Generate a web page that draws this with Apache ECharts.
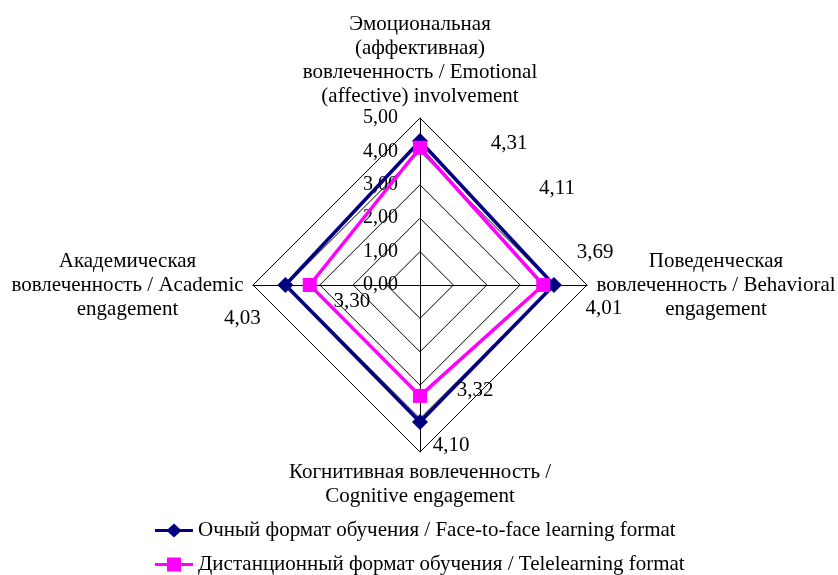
<!DOCTYPE html>
<html>
<head>
<meta charset="utf-8">
<script src="https://cdn.jsdelivr.net/npm/echarts@6/dist/echarts.min.js"></script>
<style>
html, body { margin: 0; padding: 0; background: #fff; }
#main { width: 838px; height: 575px; }
</style>
</head>
<body>
<div id="main"></div>
<script>
// indicator order goes counterclockwise from the top: Emotional, Academic, Cognitive, Behavioral
var dimNames = [
    ['Эмоциональная', '(аффективная)', 'вовлеченность / Emotional', '(affective) involvement'],
    ['Академическая', 'вовлеченность / Academic', 'engagement'],
    ['Когнитивная вовлеченность /', 'Cognitive engagement'],
    ['Поведенческая', 'вовлеченность / Behavioral', 'engagement']
];
var axisMax = 5;
var seriesNames = ['Очный формат обучения / Face-to-face learning format',
    'Дистанционный формат обучения / Telelearning format'];
var faceToFace = [4.31, 4.03, 4.10, 4.01];
var teleLearning = [4.11, 3.30, 3.32, 3.69];

var font = 'Liberation Serif';
var navy = '#000080';
var magenta = '#ff00ff';

// where each value label sits relative to its point (dx, dy), like in the original
var navyShift = [[89, 2], [-43, 33], [31, 24], [50, 23]];
var magentaShift = [[137, 41], [42, 16], [55, -5], [52, -33]];

function fmt(v) {
    return v.toFixed(2).replace('.', ',');
}

function shiftRich(shifts) {
    var rich = {};
    shifts.forEach(function (s, i) {
        var dx = s[0], dy = s[1];
        rich['s' + i] = {
            fontSize: 21,
            fontFamily: font,
            color: '#000',
            padding: [dy > 0 ? 2 * dy : 0, dx < 0 ? -2 * dx : 0, dy < 0 ? -2 * dy : 0, dx > 0 ? 2 * dx : 0]
        };
    });
    return rich;
}

function pointLabel(values, shifts) {
    return {
        show: true,
        position: 'inside',
        formatter: function (p) {
            var i = p.dimensionIndex != null ? p.dimensionIndex : values.indexOf(p.value);
            return '{s' + i + '|' + fmt(p.value) + '}';
        },
        rich: shiftRich(shifts)
    };
}

var nameSide = ['t', 'l', 'b', 'r'];
function nameStyle(w) {
    var s = { fontFamily: font, fontSize: 21, lineHeight: 24, color: '#000', align: 'center' };
    if (w) s.width = w;
    return s;
}

var chart = echarts.init(document.getElementById('main'));

var option = {
    backgroundColor: '#fff',
    animation: false,
    textStyle: { fontFamily: font },
    legend: {
        orient: 'vertical',
        left: 155,
        top: 520,
        height: 80,
        padding: 0,
        itemWidth: 38,
        itemHeight: 14,
        itemGap: 13,
        selectedMode: false,
        textStyle: { fontFamily: font, fontSize: 21, color: '#000', lineHeight: 21 },
        data: [
            { name: seriesNames[0], icon: 'path://M0,5.5 L13,5.5 L19,0 L25,5.5 L38,5.5 L38,8.5 L25,8.5 L19,14 L13,8.5 L0,8.5 Z' },
            { name: seriesNames[1], icon: 'path://M0,5.5 L12,5.5 L12,0 L26,0 L26,5.5 L38,5.5 L38,8.5 L26,8.5 L26,14 L12,14 L12,8.5 L0,8.5 Z' }
        ]
    },
    radar: {
        center: [420, 285],
        radius: 167,
        startAngle: 90,
        shape: 'polygon',
        splitNumber: 5,
        nameGap: 8,
        axisName: {
            color: '#000',
            fontFamily: font,
            fontSize: 21,
            lineHeight: 24,
            formatter: function (name, ind) {
                var idx = ind.idx;
                return dimNames[idx].map(function (line) {
                    return '{' + nameSide[idx] + '|' + line + '}';
                }).join('\n');
            },
            rich: {
                t: nameStyle(0),
                b: nameStyle(0),
                l: nameStyle(235),
                r: nameStyle(242)
            }
        },
        axisLine: { lineStyle: { color: '#000', width: 1 } },
        splitLine: { lineStyle: { color: '#000', width: 1 } },
        splitArea: { show: false },
        axisTick: { show: false },
        axisLabel: {
            show: true,
            color: '#000',
            fontFamily: font,
            fontSize: 20,
            margin: 22,
            formatter: function (v) { return fmt(v); }
        },
        indicator: dimNames.map(function (lines, i) {
            var ind = { name: lines.join(' '), idx: i, min: 0, max: axisMax };
            if (i > 0) ind.axisLabel = { show: false };
            return ind;
        })
    },
    series: [{
        type: 'radar',
        data: [{
            name: seriesNames[0],
            value: faceToFace,
            symbol: 'diamond',
            symbolSize: [16, 16],
            itemStyle: { color: navy },
            lineStyle: { color: navy, width: 3.5 },
            label: pointLabel(faceToFace, navyShift)
        }, {
            name: seriesNames[1],
            value: teleLearning,
            symbol: 'rect',
            symbolSize: 14,
            itemStyle: { color: magenta },
            lineStyle: { color: magenta, width: 3.5 },
            label: pointLabel(teleLearning, magentaShift)
        }]
    }]
};
chart.setOption(option);
</script>
</body>
</html>
